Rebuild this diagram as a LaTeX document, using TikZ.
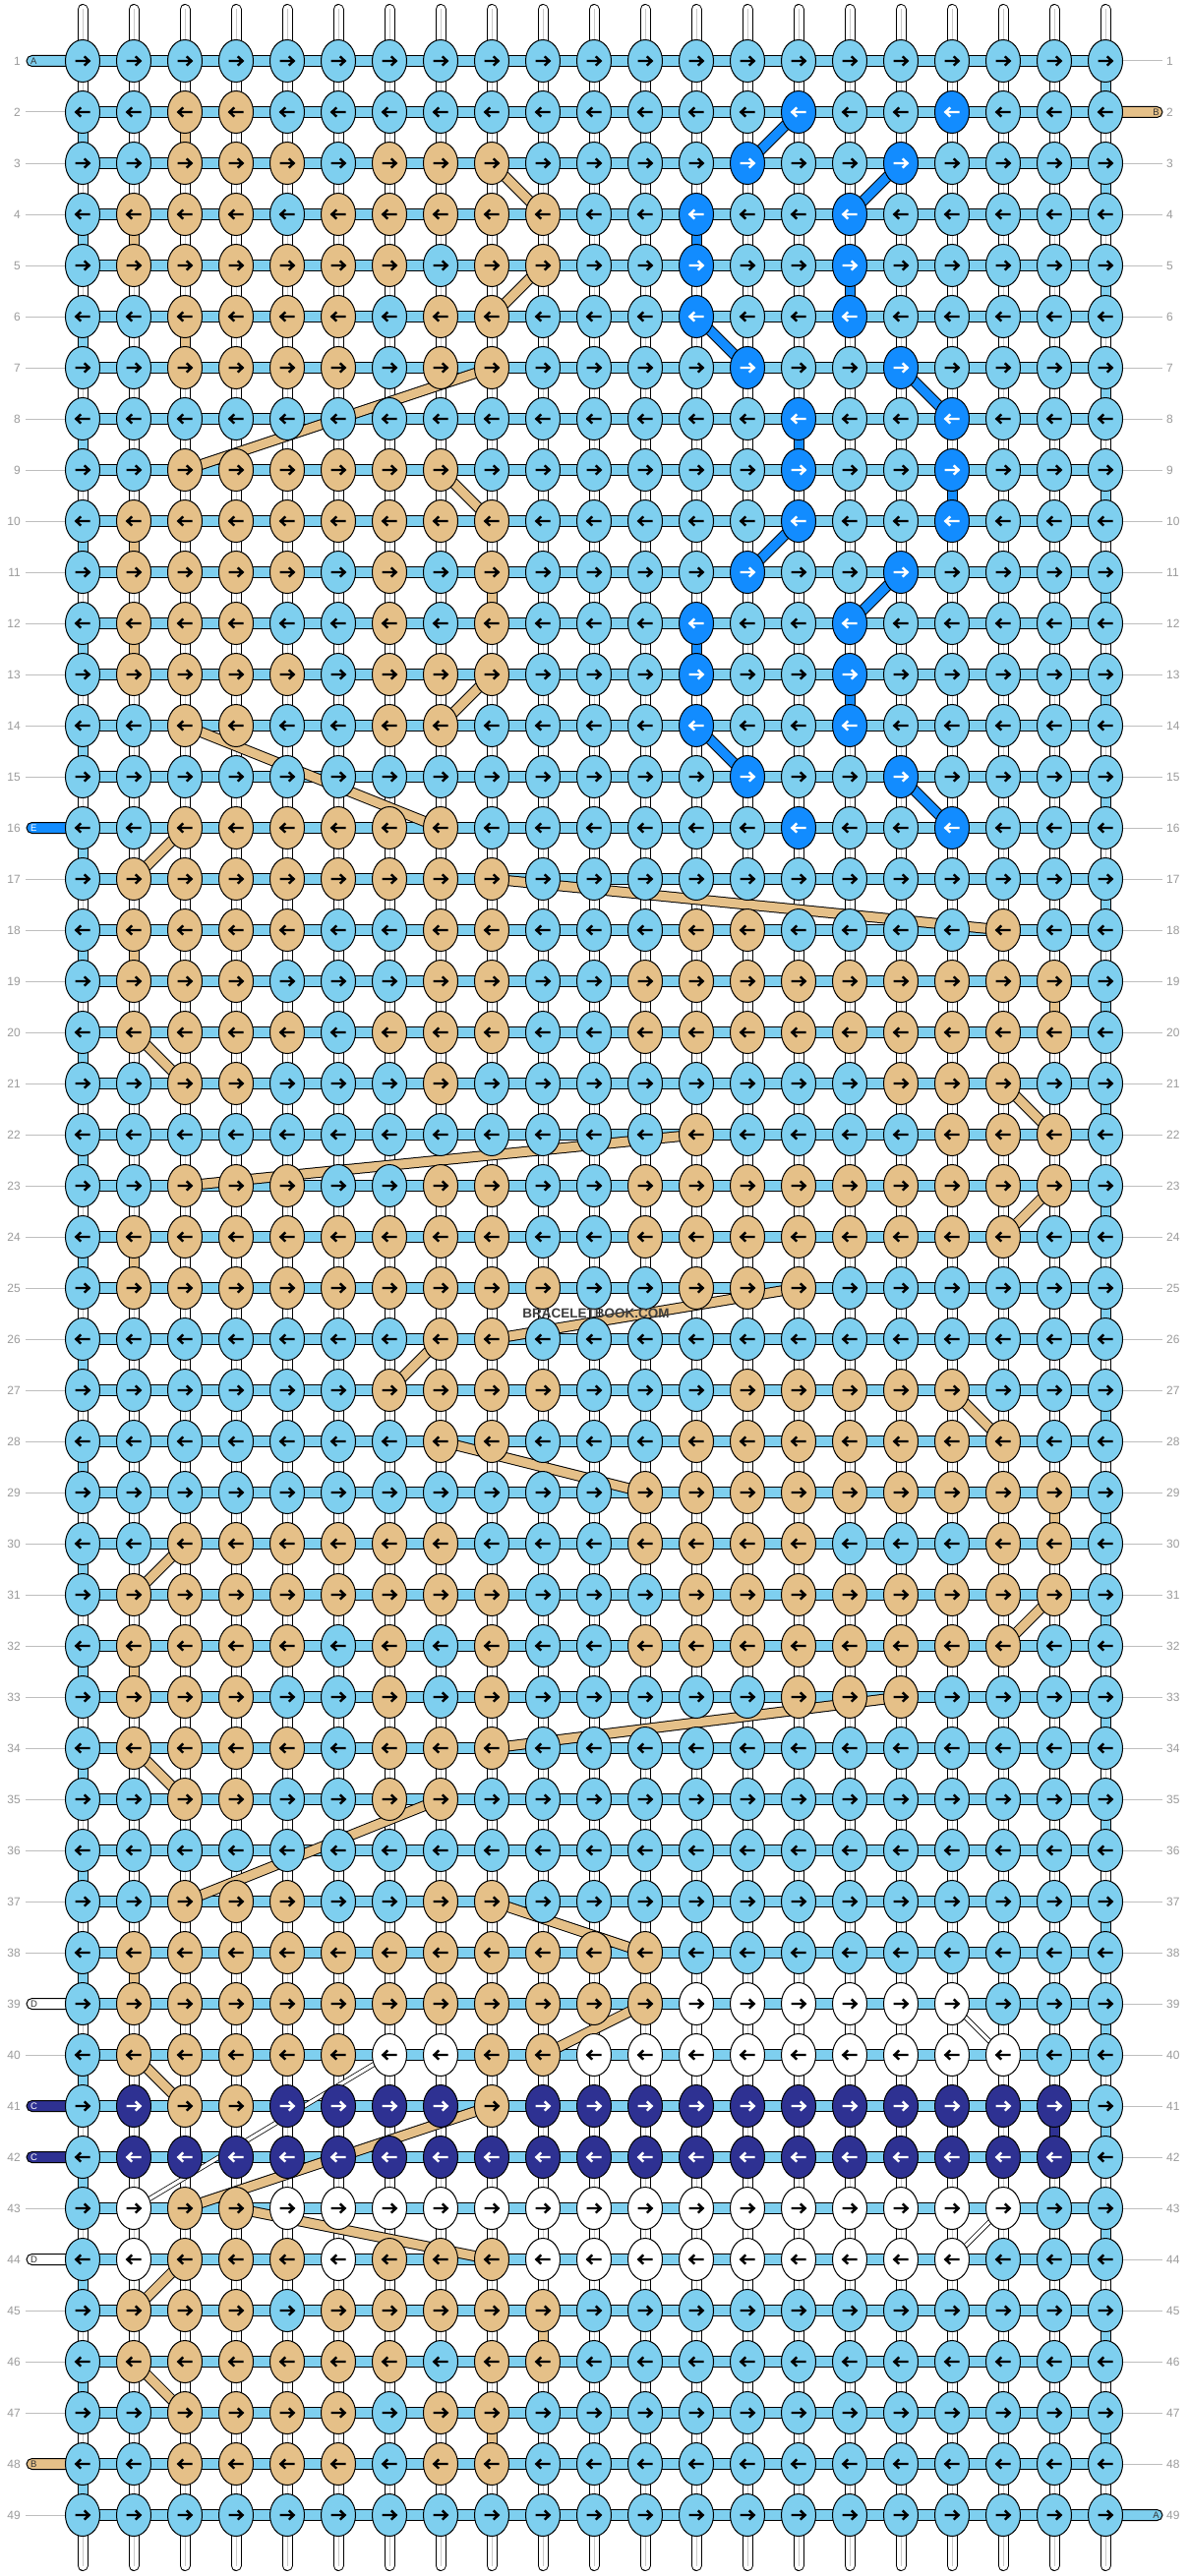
\documentclass[tikz,border=0pt]{standalone}
\usepackage{fontspec}
\setmainfont{Liberation Sans}
\usetikzlibrary{shapes.geometric}
\definecolor{ka}{RGB}{126,207,239}
\definecolor{kb}{RGB}{229,192,136}
\definecolor{ke}{RGB}{18,140,255}
\definecolor{kc}{RGB}{46,49,146}
\definecolor{kw}{RGB}{255,255,255}
\definecolor{numgray}{RGB}{155,155,155}
\definecolor{rulegray}{RGB}{190,190,190}
\definecolor{stringgray}{RGB}{200,200,200}
\definecolor{wmgray}{RGB}{60,60,60}
\def\kara{black}\def\karb{black}\def\kare{white}\def\karc{white}\def\karw{black}
\tikzset{
  knot/.style={ellipse, draw=black, line width=1pt, minimum width=35pt, minimum height=43pt, inner sep=0pt},
  knotarrow/.style={line width=2.4pt, line cap=butt, line join=miter},
  hbar/.style={draw=black, line width=1pt, fill=ka},
  conn/.style={draw=black, line width=1pt, double=#1, double distance=9pt, line cap=butt},
  thinconn/.style={draw=black, line width=0.8pt, double=white, double distance=3.4pt, line cap=butt},
  tagbar/.style={draw=black, line width=1pt, rounded corners=5.5pt},
  taglab/.style={inner sep=0pt, font=\fontsize{9.5}{9.5}\selectfont},
  numlab/.style={inner sep=0pt, text=numgray, font=\fontsize{12}{12}\selectfont},
  rowrule/.style={draw=rulegray, line width=1pt}
}
\makeatletter
\newcommand\knotrow[2]{\def\kn@row{#1}\def\kn@col{0}\kn@parse#2\relax}
\def\kn@parse#1{\ifx\relax#1\else\kn@one{#1}\expandafter\kn@parse\fi}
\def\kn@one#1{%
  \pgfmathtruncatemacro\kn@col{\kn@col+1}%
  \node[knot,fill=k#1] (k-\kn@row-\kn@col) at (p-\kn@row-\kn@col) {};%
  \ifodd\kn@row\relax\def\kn@dir{1}\else\def\kn@dir{-1}\fi
  \draw[knotarrow,draw=\csname kar#1\endcsname,shift={(p-\kn@row-\kn@col)},xscale=\kn@dir] (-7.5,0) -- (6,0) (1.8,-4.6) -- (6.6,0) -- (1.8,4.6);%
}
\makeatother
\begin{document}
\begin{tikzpicture}[x=1pt,y=-1pt]
\useasboundingbox (0,0) rectangle (1208,2620);
\fill[white] (0,0) rectangle (1208,2620);
% grid coordinates
\foreach \r in {1,...,49}{\foreach \c in {1,...,21}{\coordinate (p-\r-\c) at ({84+52*(\c-1)},{62+52*(\r-1)});}}
% vertical (warp) strings
\foreach \c in {1,...,21}{
  \pgfmathsetmacro\xx{84+52*(\c-1)}
  \draw[black, line width=11pt, line cap=round] (\xx,9.5) -- (\xx,2609.5);
  \draw[white, line width=9pt, line cap=round] (\xx,9.5) -- (\xx,2609.5);
  \draw[stringgray, line width=1pt] (\xx,9) -- (\xx,2610);
}
% horizontal working bars
\foreach \r in {1,...,49}{
  \pgfmathsetmacro\yy{62+52*(\r-1)}
  \draw[hbar] (84,\yy-5.5) rectangle (1124,\yy+5.5);
}
% row rules and numbers
\foreach \r in {2,...,15,17,18,...,38,40,43,45,46,47,49}{\pgfmathsetmacro\yy{62+52*(\r-1)}\coordinate (ll-\r) at (26,\yy); \draw[rowrule] (ll-\r) -- (p-\r-1);}
\foreach \r in {1,3,4,...,48}{\pgfmathsetmacro\yy{62+52*(\r-1)}\coordinate (lr-\r) at (1182,\yy); \draw[rowrule] (p-\r-21) -- (lr-\r);}
\foreach \r in {1,...,49}{
  \pgfmathsetmacro\yy{62+52*(\r-1)}
  \node[numlab, anchor=east] (nl-\r) at (21,\yy) {\r};
  \node[numlab, anchor=west] (nr-\r) at (1186,\yy) {\r};
}
% string tags
\foreach \r/\l/\col/\tc in {1/A/ka/black!80, 16/E/ke/white, 39/D/kw/black!80, 41/C/kc/white, 42/C/kc/white, 44/D/kw/black!80, 48/B/kb/black!80}{
  \pgfmathsetmacro\yy{62+52*(\r-1)}
  \draw[tagbar, fill=\col] (27,\yy-5.5) rectangle (90,\yy+5.5);
  \node[taglab, text=\tc, anchor=west] (tl-\r) at (31,\yy) {\l};
}
\foreach \r/\l/\col/\tc in {2/B/kb/black!80, 49/A/ka/black!80}{
  \pgfmathsetmacro\yy{62+52*(\r-1)}
  \draw[tagbar, fill=\col] (1118,\yy-5.5) rectangle (1182,\yy+5.5);
  \node[taglab, text=\tc, anchor=east] (tr-\r) at (1179,\yy) {\l};
}
% edge turn-arounds of string A
\foreach \r in {1,3,...,47}{\pgfmathtruncatemacro\rn{\r+1}\draw[conn=ka] (p-\r-21) -- (p-\rn-21);}
\foreach \r in {2,4,...,48}{\pgfmathtruncatemacro\rn{\r+1}\draw[conn=ka] (p-\r-1) -- (p-\rn-1);}
% string E
\foreach \a/\b in {2-15/3-14, 3-17/4-16, 4-13/5-13, 5-16/6-16, 6-13/7-14, 7-17/8-18, 8-15/9-15, 9-18/10-18, 10-15/11-14, 11-17/12-16, 12-13/13-13, 13-16/14-16, 14-13/15-14, 15-17/16-18}{\draw[conn=ke] (p-\a) -- (p-\b);}
% string B
\foreach \a/\b in {2-3/3-3, 3-9/4-10, 4-2/5-2, 5-10/6-9, 6-3/7-3, 7-9/9-3, 9-8/10-9, 10-2/11-2, 11-9/12-9, 12-2/13-2, 13-9/14-8, 14-3/16-8, 16-3/17-2, 17-9/18-19, 18-2/19-2, 19-20/20-20, 20-2/21-3, 21-19/22-20, 22-13/23-3, 23-20/24-19, 24-2/25-2, 25-15/26-9, 26-8/27-7, 27-18/28-19, 28-8/29-12, 29-20/30-20, 30-3/31-2, 31-20/32-19, 32-2/33-2, 33-17/34-9, 34-2/35-3, 35-8/37-3, 37-9/38-12, 38-2/39-2, 39-12/40-10, 40-2/41-3, 41-9/43-3, 43-4/44-9, 44-3/45-2, 45-10/46-10, 46-2/47-3, 47-9/48-9}{\draw[conn=kb] (p-\a) -- (p-\b);}
% string C
\draw[conn=kc] (p-41-20) -- (p-42-20);
% string D
\foreach \a/\b in {39-18/40-19, 40-7/43-2, 43-19/44-18}{\draw[thinconn] (p-\a) -- (p-\b);}
% knots
\knotrow{1}{aaaaaaaaaaaaaaaaaaaaa}
\knotrow{2}{aabbaaaaaaaaaaeaaeaaa}
\knotrow{3}{aabbbabbbaaaaeaaeaaaa}
\knotrow{4}{abbbabbbbbaaeaaeaaaaa}
\knotrow{5}{abbbbbbabbaaeaaeaaaaa}
\knotrow{6}{aabbbbabbaaaeaaeaaaaa}
\knotrow{7}{aabbbbabbaaaaeaaeaaaa}
\knotrow{8}{aaaaaaaaaaaaaaeaaeaaa}
\knotrow{9}{aabbbbbbaaaaaaeaaeaaa}
\knotrow{10}{abbbbbbbbaaaaaeaaeaaa}
\knotrow{11}{abbbbababaaaaeaaeaaaa}
\knotrow{12}{abbbaababaaaeaaeaaaaa}
\knotrow{13}{abbbbabbbaaaeaaeaaaaa}
\knotrow{14}{aabbaabbaaaaeaaeaaaaa}
\knotrow{15}{aaaaaaaaaaaaaeaaeaaaa}
\knotrow{16}{aabbbbbbaaaaaaeaaeaaa}
\knotrow{17}{abbbbbbbbaaaaaaaaaaaa}
\knotrow{18}{abbbbaabbaaabbaaaabaa}
\knotrow{19}{abbbaaabbaabbbbbbbbba}
\knotrow{20}{abbbbabbbaabbbbbbbbba}
\knotrow{21}{aabbaaabaaaaaaaabbbaa}
\knotrow{22}{aaaaaaaaaaaabaaaabbba}
\knotrow{23}{aabbbaabbaabbbbbbbbba}
\knotrow{24}{abbbbbbbbaabbbbbbbbaa}
\knotrow{25}{abbbbbbbbbaabbbaaaaaa}
\knotrow{26}{aaaaaaabbaaaaaaaaaaaa}
\knotrow{27}{aaaaaabbbbaaabbbbbaaa}
\knotrow{28}{aaaaaaabbaaabbbbbbbaa}
\knotrow{29}{aaaaaaaaaaabbbbbbbbba}
\knotrow{30}{aabbbbbbaaabbbbaaabba}
\knotrow{31}{abbbbbbbbaaabbbbbbbba}
\knotrow{32}{abbbbababaabbbbbbbbaa}
\knotrow{33}{abbbaababaaaaabbbaaaa}
\knotrow{34}{abbbbabbbaaaaaaaaaaaa}
\knotrow{35}{aabbaabbaaaaaaaaaaaaa}
\knotrow{36}{aaaaaaaaaaaaaaaaaaaaa}
\knotrow{37}{aabbbaabbaaaaaaaaaaaa}
\knotrow{38}{abbbbbbbbbbbaaaaaaaaa}
\knotrow{39}{abbbbbbbbbbbwwwwwwaaa}
\knotrow{40}{abbbbbwwbbwwwwwwwwwaa}
\knotrow{41}{acbbccccbccccccccccca}
\knotrow{42}{accccccccccccccccccca}
\knotrow{43}{awbbwwwwwwwwwwwwwwwaa}
\knotrow{44}{awbbbwbbbwwwwwwwwwaaa}
\knotrow{45}{abbbabbbbbaaaaaaaaaaa}
\knotrow{46}{abbbbbbabbaaaaaaaaaaa}
\knotrow{47}{aabbbbabbaaaaaaaaaaaa}
\knotrow{48}{aabbbbabbaaaaaaaaaaaa}
\knotrow{49}{aaaaaaaaaaaaaaaaaaaaa}
% watermark
\node[inner sep=0pt, text=wmgray, font=\bfseries\fontsize{13.5}{13.5}\selectfont] (wm) at (606,1336) {BRACELETBOOK.COM};
\end{tikzpicture}
\end{document}
